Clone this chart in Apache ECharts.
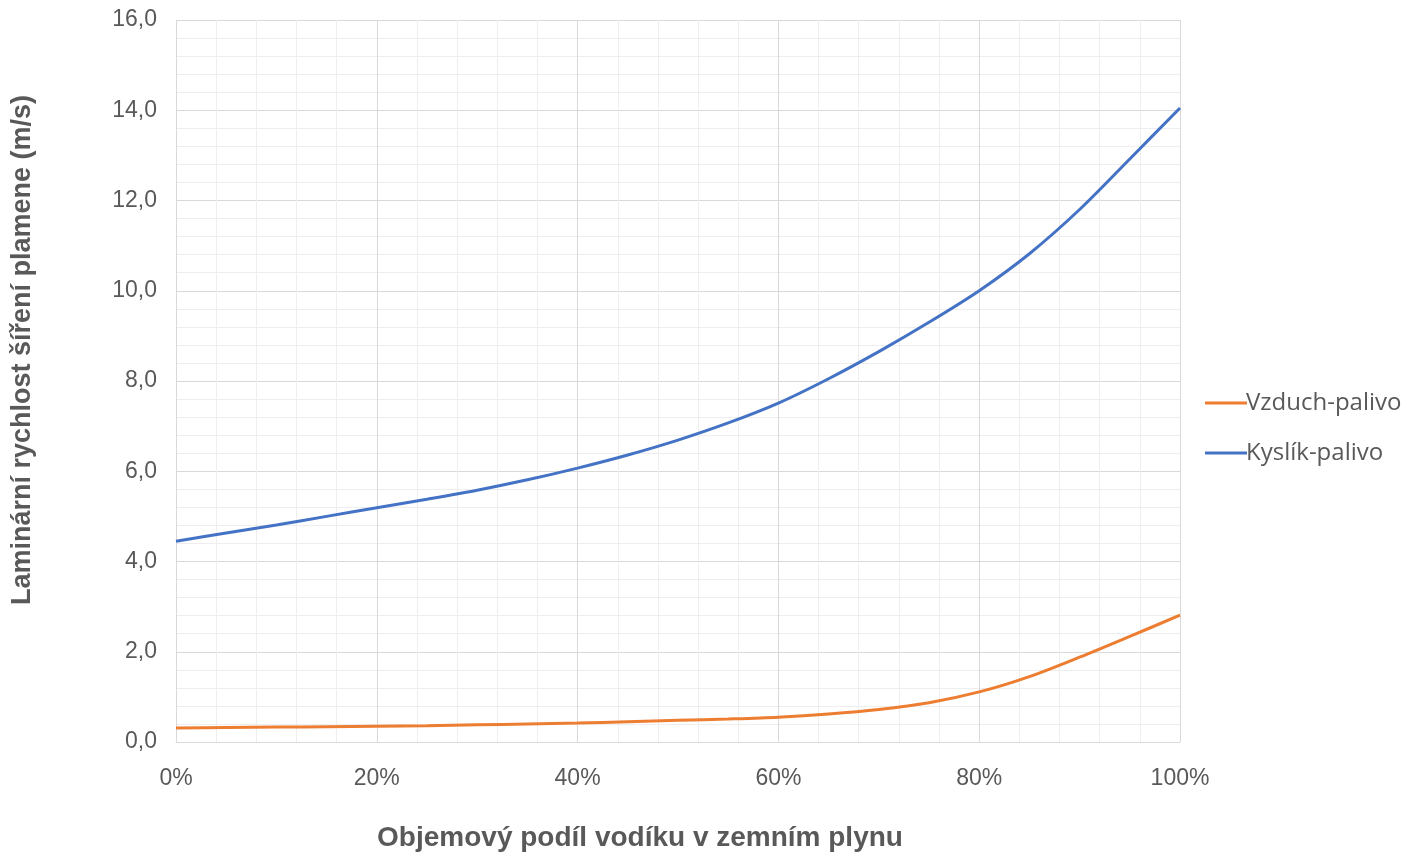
<!DOCTYPE html>
<html>
<head>
<meta charset="utf-8">
<script src="https://cdn.jsdelivr.net/npm/echarts@6/dist/echarts.min.js"></script>
<style>
  html, body { margin: 0; padding: 0; background: #ffffff; }
  #chart { width: 1420px; height: 856px; }
</style>
</head>
<body>
<div id="chart"></div>
<script>
// Volume share of hydrogen in natural gas (%)
const hydrogenShare = [0, 5, 10, 15, 20, 25, 30, 35, 40, 45, 50, 55, 60, 65, 70, 75, 80, 85, 90, 95, 100];
// Laminar flame speed (m/s)
const airFuel = [0.31, 0.32, 0.33, 0.34, 0.35, 0.36, 0.38, 0.40, 0.42, 0.45, 0.48, 0.51, 0.55, 0.62, 0.72, 0.87, 1.11, 1.45, 1.88, 2.34, 2.81];
const oxyFuel = [4.45, 4.63, 4.81, 5.00, 5.19, 5.38, 5.58, 5.81, 6.07, 6.36, 6.69, 7.07, 7.51, 8.05, 8.65, 9.30, 10.00, 10.82, 11.80, 12.92, 14.05];
const seriesNames = ['Vzduch-palivo', 'Kyslík-palivo'];
const xTitle = 'Objemový podíl vodíku v zemním plynu';
const yTitle = 'Laminární rychlost šíření plamene (m/s)';

const pairs = (vals) => hydrogenShare.map((x, i) => [x, vals[i]]);
const textColor = '#595959';
const font = '"Liberation Sans", Arial, sans-serif';

const chart = echarts.init(document.getElementById('chart'), null, { renderer: 'canvas' });
chart.setOption({
  backgroundColor: '#ffffff',
  animation: false,
  grid: { left: 176, right: 240, top: 20, bottom: 114, containLabel: false },
  xAxis: {
    type: 'value', min: 0, max: 100, interval: 20,
    axisLine: { show: true, lineStyle: { color: '#d9d9d9', width: 1 } },
    axisTick: { show: false },
    axisLabel: { formatter: v => v + '%', color: textColor, fontSize: 23, fontFamily: font, margin: 25 },
    splitLine: { show: true, lineStyle: { color: '#d9d9d9', width: 1 } },
    minorTick: { show: false, splitNumber: 5 },
    minorSplitLine: { show: true, lineStyle: { color: '#eeeeee', width: 1 } }
  },
  yAxis: {
    type: 'value', min: 0, max: 16, interval: 2,
    axisLine: { show: false },
    axisTick: { show: false },
    axisLabel: { formatter: v => v.toFixed(1).replace('.', ','), color: textColor, fontSize: 23, fontFamily: font, margin: 19 },
    splitLine: { show: true, lineStyle: { color: '#d9d9d9', width: 1 } },
    minorTick: { show: false, splitNumber: 5 },
    minorSplitLine: { show: true, lineStyle: { color: '#eeeeee', width: 1 } }
  },
  legend: {
    orient: 'vertical', left: 1200, top: 386, itemGap: 26,
    itemWidth: 42, itemHeight: 3, icon: 'rect',
    textStyle: { color: textColor, fontSize: 24, fontFamily: '"Open Sans", sans-serif', padding: [0, 0, 0, -6] },
    data: seriesNames
  },
  graphic: [
    { type: 'text', x: 640, y: 838, style: { text: xTitle, textAlign: 'center', textVerticalAlign: 'middle', font: 'bold 28px ' + font, fill: textColor } },
    { type: 'text', rotation: Math.PI / 2, x: 23, y: 350, style: { text: yTitle, textAlign: 'center', textVerticalAlign: 'middle', font: 'bold 27px ' + font, fill: textColor } }
  ],
  series: [
    { name: seriesNames[0], type: 'line', smooth: 0.3, showSymbol: false, data: pairs(airFuel), lineStyle: { color: '#ED7D31', width: 3 }, itemStyle: { color: '#ED7D31' } },
    { name: seriesNames[1], type: 'line', smooth: 0.3, showSymbol: false, data: pairs(oxyFuel), lineStyle: { color: '#4472C4', width: 3 }, itemStyle: { color: '#4472C4' } }
  ]
});
</script>
</body>
</html>
